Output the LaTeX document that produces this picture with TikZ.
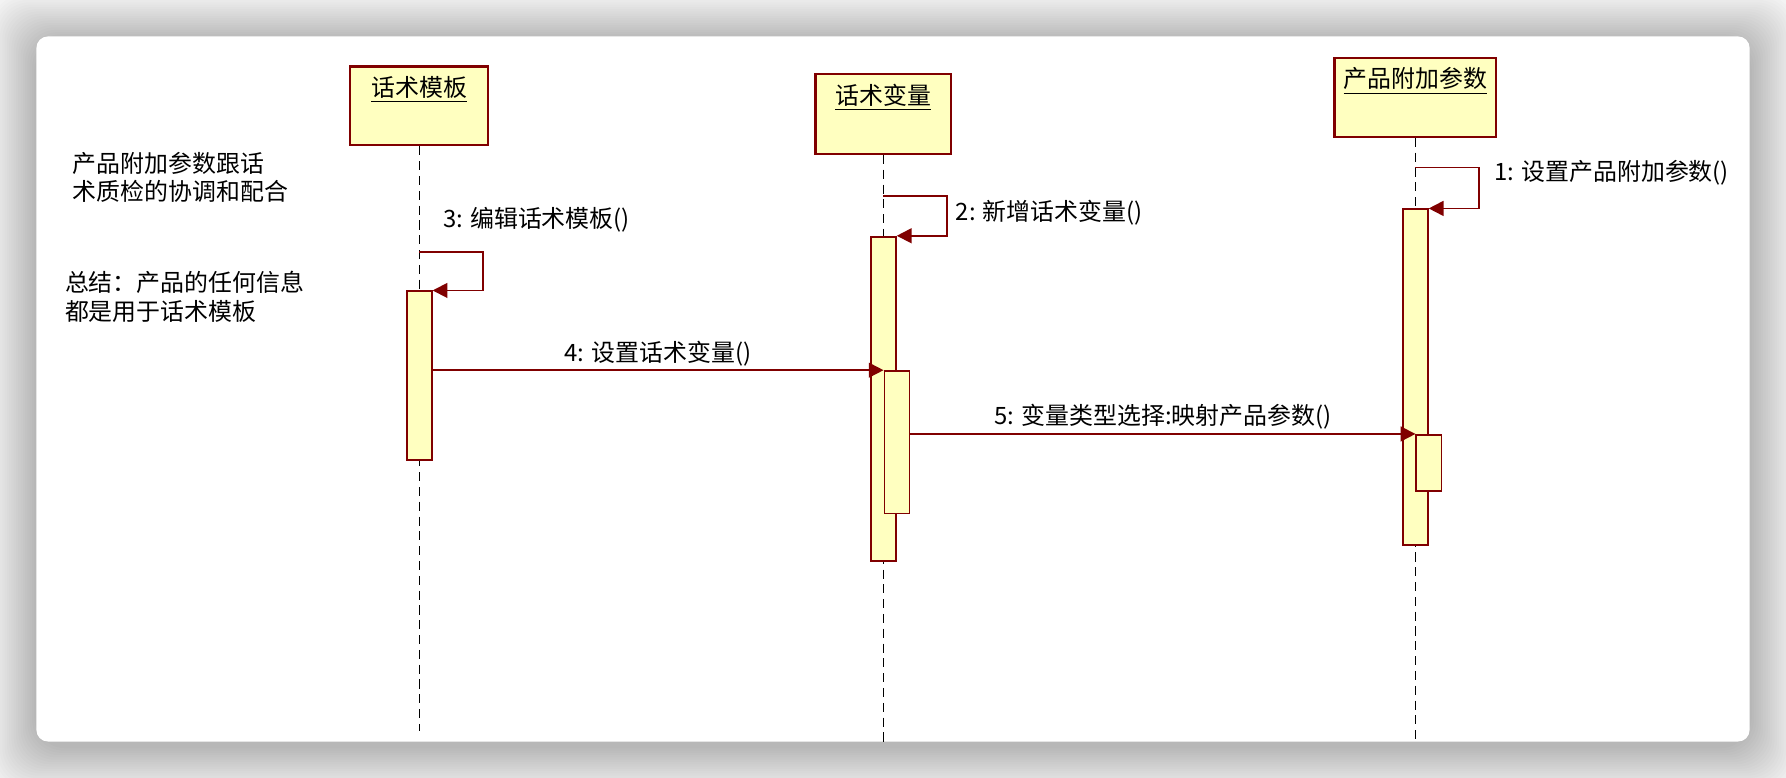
\documentclass[tikz,border=0pt]{standalone}
\usepackage{fontspec}
\setmainfont{Noto Sans CJK SC}
\usetikzlibrary{arrows.meta}

\definecolor{rosered}{RGB}{128,0,0}
\definecolor{roseyellow}{RGB}{255,255,192}

\begin{document}
\begin{tikzpicture}[x=0.5pt, y=-0.5pt, font=\fontsize{10.5pt}{12.5pt}\selectfont]
\tikzset{
  head/.style={draw=rosered, fill=roseyellow, line width=1pt, minimum height=34.5pt,
    inner xsep=0pt, inner ysep=5pt, text height=8pt, text depth=16.5pt},
  bar/.style={draw=rosered, fill=roseyellow, line width=0.8pt, minimum width=11pt,
    inner sep=0pt, anchor=north},
  lifeline/.style={black, line width=0.5pt, dash pattern=on 4pt off 2.5pt},
  msg/.style={rosered, line width=0.8pt, -{Triangle[length=6.5pt, width=6.5pt]}},
  lbl/.style={inner sep=1.5pt, text=black}
}
    % page and card
    \useasboundingbox (0,0) rectangle (1568,683);
    \fill[white] (0,0) rectangle (1568,683);
    \foreach \s in {1,...,24}
        \fill[black, opacity=0.011, rounded corners=14pt]
            (32-2*\s, 36-2*\s) rectangle (1536+2*\s, 655+2*\s);
    \fill[white, rounded corners=5pt] (32,32) rectangle (1536,651);

    % lifeline heads
    \node[head, minimum width=60.5pt] (tmpl) at (368,93) {\underline{话术模板}};
    \node[head, minimum width=59.5pt, minimum height=35pt] (var) at (775.5,100) {\underline{话术变量}};
    \node[head, minimum width=71pt] (param) at (1242.5,85.5) {\underline{产品附加参数}};

    \coordinate (tmplend) at (368,642);
    \coordinate (varend) at (775.5,651);
    \coordinate (paramend) at (1242.5,651);
    \draw[lifeline] (tmpl.south) -- (tmplend);
    \draw[lifeline] (var.south) -- (varend);
    \draw[lifeline] (param.south) -- (paramend);

    % activations
    \node[bar, minimum height=74pt] (bar1) at (368,255) {};
    \node[bar, minimum height=142.5pt] (bar2) at (775.5,207) {};
    \node[bar, minimum height=62.5pt] (bar2b) at (787.5,325) {};
    \node[bar, minimum height=147.5pt] (bar3) at (1242.5,183) {};
    \node[bar, minimum height=24.5pt] (bar3b) at (1254.5,381) {};

    % notes
    \node[anchor=west, align=left] (note1) at (57,155.5) {产品附加参数跟话\\术质检的协调和配合};
    \node[anchor=west, align=left] (note2) at (50,260.5) {总结：产品的任何信息\\都是用于话术模板};

    % messages
    \draw[msg] (param |- 0,147) -| ([xshift=22pt]bar3.north east) -- (bar3.north east);
    \node[anchor=west] (lbl1) at (1305,152) {1: 设置产品附加参数()};
    \draw[msg] (var |- 0,172) -| ([xshift=22pt]bar2.north east) -- (bar2.north east);
    \node[anchor=west] (lbl2) at (832,187) {2: 新增话术变量()};
    \draw[msg] (tmpl |- 0,221) -| ([xshift=22pt]bar1.north east) -- (bar1.north east);
    \node[anchor=west] (lbl3) at (382,193) {3: 编辑话术模板()};
    \draw[msg] (bar1.east |- bar2b.north) -- (bar2b.north west)
        node[midway, above, lbl] (lbl4) {4: 设置话术变量()};
    \draw[msg] (bar2b.east |- bar3b.north) -- (bar3b.north west)
        node[midway, above, lbl] (lbl5) {5: 变量类型选择:映射产品参数()};
\end{tikzpicture}
\end{document}
